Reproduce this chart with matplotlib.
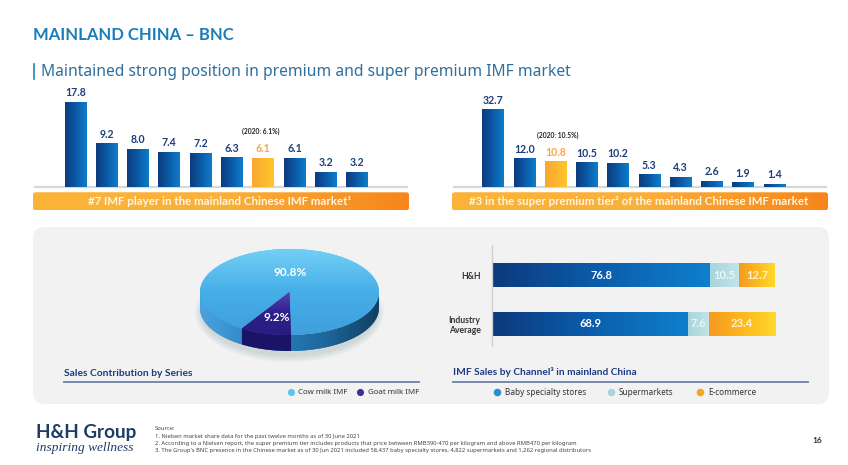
import numpy as np
import matplotlib
matplotlib.use("Agg")
import matplotlib.pyplot as plt
from matplotlib.patches import FancyBboxPatch, Ellipse, PathPatch
from matplotlib.path import Path
from matplotlib.colors import LinearSegmentedColormap

plt.rcParams['font.family'] = ['Noto Sans', 'DejaVu Sans']
BOLD = dict(family=['Lato', 'DejaVu Sans'], fontweight='bold')

# ---- data ----
player_values = [17.8, 9.2, 8.0, 7.4, 7.2, 6.3, 6.1, 6.1, 3.2, 3.2]
player_highlight = 6
premium_values = [32.7, 12.0, 10.8, 10.5, 10.2, 5.3, 4.3, 2.6, 1.9, 1.4]
premium_highlight = 2
series_names = ['Cow milk IMF', 'Goat milk IMF']
series_values = [90.8, 9.2]
channel_groups = ['H&H', 'Industry\nAverage']
channel_names = ['Baby specialty stores', 'Supermarkets', 'E-commerce']
channel_baby = [76.8, 68.9]
channel_super = [10.5, 7.6]
channel_ecom = [12.7, 23.4]

W, H = 848, 465
NAVY = '#1c3f7c'
fig = plt.figure(figsize=(W / 100, H / 100), dpi=100, facecolor='white')

def axes_px(x0, y0, x1, y1, z=1):
    ax = fig.add_axes([x0 / W, 1 - y1 / H, (x1 - x0) / W, (y1 - y0) / H], zorder=z)
    ax.patch.set_alpha(0)
    return ax

def gradient(ax, patch, colors):
    b = patch.get_path().get_extents(patch.get_patch_transform())
    cmap = LinearSegmentedColormap.from_list('g', colors)
    im = ax.imshow(np.linspace(0, 1, 128)[None, :], cmap=cmap, extent=(b.x0, b.x1, b.y0, b.y1),
                   origin='lower', aspect='auto', zorder=patch.get_zorder() + 0.1,
                   interpolation='bilinear')
    im.set_clip_path(patch)
    return im

# ---- overlay in pixel units ----
ov = axes_px(0, 0, W, H, z=0)
ov.set_xlim(0, W)
ov.set_ylim(H, 0)
ov.axis('off')

ov.text(33, 35.5, 'MAINLAND CHINA – BNC', fontsize=12, color='#1a7dba', va='center', **BOLD)
ov.plot([33.5, 33.5], [64, 79], color='#2a80b9', lw=1.2)
ov.text(41, 71.5, 'Maintained strong position in premium and super premium IMF market',
        fontsize=11.25, color='#2e6f9e', va='center')

panel = FancyBboxPatch((33, 227), 796, 177, boxstyle='round,pad=0,rounding_size=11',
                       fc='#f2f2f3', ec='none', zorder=0.5)
ov.add_patch(panel)

def banner(x0, x1, text):
    p = FancyBboxPatch((x0, 192.5), x1 - x0, 17.5, boxstyle='round,pad=0,rounding_size=2.5',
                       fc='#fbb040', ec='none', zorder=1)
    ov.add_patch(p)
    im = ov.imshow(np.linspace(0, 1, 128)[None, :],
                   cmap=LinearSegmentedColormap.from_list('b', ['#fbb437', '#fbb03a', '#f7851c']),
                   extent=(x0, x1, 210, 192.5), aspect='auto', zorder=1.1)
    im.set_clip_path(p)
    ov.text((x0 + x1) / 2 - 1, 201.5, text, color='#fff6e0', fontsize=8.25,
            ha='center', va='center', zorder=2, **BOLD)
    ov.plot([x0 + 2, x1 - 2], [187.5, 187.5], color='#d8d8d8', lw=1.6, zorder=0.8)

banner(33, 409, '#7 IMF player in the mainland Chinese IMF market¹')
banner(452, 828, '#3 in the super premium tier² of the mainland Chinese IMF market')
ov.set_xlim(0, W)
ov.set_ylim(H, 0)

ov.text(261, 131.7, '(2020: 6.1%)', fontsize=4.9, color='#222222', ha='center', va='center', **BOLD)
ov.text(558, 135.7, '(2020: 10.5%)', fontsize=4.9, color='#222222', ha='center', va='center', **BOLD)

ov.text(64, 373.5, 'Sales Contribution by Series', fontsize=7.35, color='#1f3a82', va='center', **BOLD)
ov.plot([64, 419], [381.5, 381.5], color='#6f82ab', lw=1.3)
ov.text(453, 371.5, 'IMF Sales by Channel³ in mainland China', fontsize=7.25, color='#1f3a82', va='center', **BOLD)
ov.plot([453, 808], [381.7, 381.7], color='#6f82ab', lw=1.3)

for x, c, t in [(290.7, '#5cc4ee', series_names[0]), (360, '#46289a', series_names[1])]:
    ov.scatter([x], [392], s=26, color=c, zorder=3, linewidths=0)
    ov.text(x + 7.5, 392, t, fontsize=5.7, color='#333333', va='center')
for x, c, t in zip([497, 610.7, 700], ['#2a8fd0', '#aad3da', '#f5a623'], channel_names):
    ov.scatter([x], [392], s=30, color=c, zorder=3, linewidths=0)
    ov.text(x + 8, 392, t, fontsize=5.9, color='#333333', va='center')

# logo, source notes, page number
ov.text(35.5, 432, 'H&H Group', fontsize=13.6, color='#1d3c66', va='center', **BOLD)
ov.text(36, 448, 'inspiring wellness', fontsize=9.6, color='#1d3c66', va='center', style='italic', family='Liberation Serif')
notes = ['Source:',
         '1. Nielsen market share data for the past twelve months as of 30 June 2021',
         '2. According to a Nielsen report, the super premium tier includes products that price between RMB390-470 per kilogram and above RMB470 per kilogram',
         "3. The Group's BNC presence in the Chinese market as of 30 Jun 2021 included 58,437 baby specialty stores, 4,822 supermarkets and 1,262 regional distributors"]
for y, t in zip([428.5, 436, 443.5, 450.5], notes):
    ov.text(155, y, t, fontsize=4.2, color='#444444', va='center')
ov.text(817, 440, '16', fontsize=6, color='#333333', ha='center', va='center', **BOLD)

# ---- top column charts ----
BLUE = ['#0d3b7e', '#0b5aa6', '#0f7dca']
GOLD = ['#f8a732', '#ffc62a']

def columns(values, hi, x0, x1, first, step, scale, label_gap=8.8):
    y0, y1 = 88, 187
    ax = axes_px(x0, y0, x1, y1)
    bars = ax.bar(range(len(values)), values, width=21.5 / step, color=BLUE[1], linewidth=0, zorder=2)
    for i, (b, v) in enumerate(zip(bars, values)):
        gradient(ax, b, GOLD if i == hi else BLUE)
        ax.annotate(f'{v:.1f}', (i, v), xytext=(0, label_gap * 0.72), textcoords='offset points',
                    ha='center', va='center', fontsize=7.6,
                    color='#f5a84a' if i == hi else NAVY, **BOLD)
    ax.set_xlim((x0 - first) / step, (x1 - first) / step)
    ax.set_ylim(0, (y1 - y0) / scale)
    ax.axis('off')
    return ax

columns(player_values, player_highlight, 33, 409, 75.3, 31.3, 4.79)
columns(premium_values, premium_highlight, 452, 828, 493, 31.25, 2.385)

# ---- pie ----
cx, cy, rx, ry, depth = 289.5, 292, 89.5, 43, 16
px0, py0, px1, py1 = 180, 235, 400, 375
pa = axes_px(px0, py0, px1, py1)
d = depth / ry
for k in range(14):
    pa.add_patch(Ellipse((0, -d - 0.1), 2.12 - k * 0.012, 2.34 - k * 0.025, fc='#7d8ea3', ec='none', alpha=0.018, zorder=0.5))

start = 271
wedges, _ = pa.pie(series_values, startangle=start, colors=['#41ace6', '#2f2090'],
                   radius=1, center=(0, 0), wedgeprops=dict(linewidth=0, zorder=3))
pa.set_aspect('auto')
ang_end = start + series_values[0] * 3.6 - 360

def wall(t1, t2):
    t = np.radians(np.linspace(t1, t2, 80))
    top = np.c_[np.cos(t), np.sin(t)]
    low = top[::-1] - [0, d]
    return Path(np.r_[top, low, top[:1]])

cow_wall = PathPatch(wall(180, 360), fc='#2a7ab5', ec='none', zorder=2, transform=pa.transData)
pa.add_patch(cow_wall)
im = pa.imshow(np.linspace(0, 1, 128)[None, :],
               cmap=LinearSegmentedColormap.from_list('w', ['#4aa3de', '#2b81bf', '#1f6ba1', '#123f63']),
               extent=(-1, 1, -1 - d, 0), aspect='auto', zorder=2.1)
im.set_clip_path(cow_wall)
goat_wall = PathPatch(wall(ang_end, start), fc='#1a1468', ec='none', zorder=2.2, transform=pa.transData)
pa.add_patch(goat_wall)

tops = [(['#3f9fdc', '#46aee8', '#72d0f6'], (-1, 1, -1, 1)),
        (['#2a1c80', '#2c1f8c', '#5a3fb0'], (-1, 1, -1, 0))]
for w, (cols, ext) in zip(wedges, tops):
    w.set_zorder(3)
    im = pa.imshow(np.linspace(0, 1, 128)[:, None], cmap=LinearSegmentedColormap.from_list('t', cols),
                   extent=ext, origin='lower', aspect='auto', zorder=3.1)
    im.set_clip_path(w)

pa.set_xlim((px0 - cx) / rx, (px1 - cx) / rx)
pa.set_ylim((cy - py1) / ry, (cy - py0) / ry)
pa.axis('off')
pa.text((290 - cx) / rx, (cy - 272.7) / ry, f'{series_values[0]}%', color='white', fontsize=8.6,
        ha='center', va='center', zorder=5, **BOLD)
pa.text((276.7 - cx) / rx, (cy - 317.7) / ry, f'{series_values[1]}%', color='white', fontsize=8.6,
        ha='center', va='center', zorder=5, **BOLD)

# ---- stacked bars ----
sx0, sx1 = 493, 775.3
sy0, sy1 = 245, 346
scale = (sx1 - sx0) / 100
sa = axes_px(491.7, sy0, 800, sy1)
spacing = 48.2
ypos = np.arange(len(channel_groups))
hgt = 24 / spacing
left = np.zeros(2)
fills = [(channel_baby, ['#0d3a7d', '#0b5dac', '#0f7fcc'], '#ffffff'),
         (channel_super, ['#a8d5dd', '#c4e4e8'], '#eaf6f8'),
         (channel_ecom, ['#f59a1f', '#fdb81f', '#ffd92a'], '#fff4d0')]
for vals, cols, tc in fills:
    bars = sa.barh(ypos, vals, left=left, height=hgt, color=cols[0], linewidth=0, zorder=2)
    for b, v, l, yy in zip(bars, vals, left, ypos):
        gradient(sa, b, cols)
        sa.text(l + v / 2, yy, f'{v}', color=tc, fontsize=8, ha='center', va='center', zorder=5, **BOLD)
    left = left + np.array(vals)
sa.set_xlim((491.7 - sx0) / scale, (800 - sx0) / scale)
sa.set_ylim((sy1 - 275.3) / spacing, (sy0 - 275.3) / spacing)
for s in ['top', 'right', 'bottom']:
    sa.spines[s].set_visible(False)
sa.spines['left'].set_color('#d0d0d2')
sa.spines['left'].set_linewidth(1)
sa.set_xticks([])
sa.set_yticks(ypos, channel_groups, fontsize=6.2, color='#333333', **BOLD)
sa.tick_params(axis='y', length=0, pad=8)

fig.savefig('out.png', dpi=100)
